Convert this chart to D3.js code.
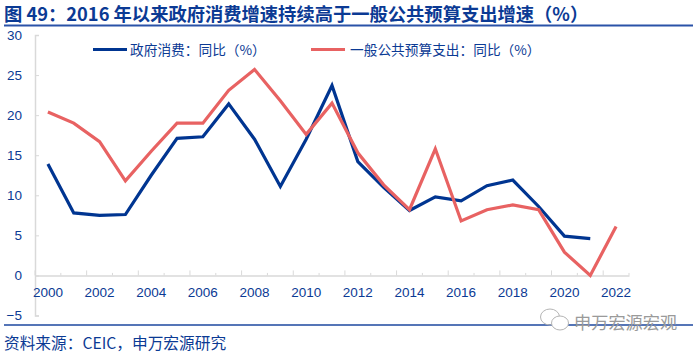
<!DOCTYPE html>
<html>
<head>
<meta charset="utf-8">
<script src="https://cdn.jsdelivr.net/npm/d3@7"></script>
<style>
    html, body { margin: 0; padding: 0; background: #fff; }
    svg { display: block; }
    text { font-family: "Liberation Sans", "Noto Sans CJK SC", sans-serif; }
</style>
</head>
<body>
<div id="container"></div>
<script>
const years = d3.range(2000, 2023).map(String);
const tickYears = ['2000', '2002', '2004', '2006', '2008', '2010', '2012', '2014', '2016', '2018', '2020', '2022'];
const yTicks = [-5, 0, 5, 10, 15, 20, 25, 30];
const govConsumption = [13.9, 7.8, 7.5, 7.6, 12.5, 17.1, 17.3, 21.4, 17, 11.1, 17, 23.7, 14.2, 11, 8.1, 9.8, 9.3, 11.2, 11.9, 8.6, 4.9, 4.6];
const publicBudget = [20.4, 19, 16.7, 11.8, 15.5, 19, 19, 23.1, 25.7, 21.8, 17.6, 21.5, 15.3, 11.3, 8.2, 15.8, 6.8, 8.2, 8.8, 8.2, 2.9, 0, 6.1];
const titleText = '图 49：2016 年以来政府消费增速持续高于一般公共预算支出增速（%）';
const sourceText = '资料来源：CEIC，申万宏源研究';
const watermarkText = '申万宏源宏观';

const navy = '#0b3a94';
const blue = '#003591';
const red = '#e86262';
const grey = '#d9d9d9';
const cjk = '"Noto Sans CJK SC", sans-serif';

const width = 700;
const height = 354;
const marginLeft = 35;
const plotRight = 629;
const plotTop = 35;
const plotBottom = 315.5;

const svg = d3.create('svg')
    .attr('width', width)
    .attr('height', height);

// ---------- SCALES ----------
const x = d3.scaleBand()
    .domain(years)
    .range([marginLeft, plotRight]);

const y = d3.scaleLinear()
    .domain([-5, 30])
    .range([plotBottom, plotTop]);

// ---------- HEADER / FOOTER ----------
svg.append('text')
    .attr('x', 4)
    .attr('y', 20.5)
    .attr('fill', navy)
    .style('font-family', cjk)
    .style('font-size', '18.3px')
    .style('font-weight', 700)
    .text(titleText);

svg.append('line')
    .attr('x1', 4).attr('x2', 693)
    .attr('y1', 25.5).attr('y2', 25.5)
    .attr('stroke', '#2a52a8')
    .attr('stroke-width', 2);

svg.append('line')
    .attr('x1', 4).attr('x2', 693)
    .attr('y1', 325).attr('y2', 325)
    .attr('stroke', '#1d479f')
    .attr('stroke-width', 1.5);

svg.append('text')
    .attr('x', 4)
    .attr('y', 349)
    .attr('fill', navy)
    .style('font-family', cjk)
    .style('font-size', '15.7px')
    .text(sourceText);

// ---------- AXES ----------
const yAxis = svg.append('g')
    .attr('transform', `translate(${marginLeft},0)`)
    .call(d3.axisLeft(y).tickValues(yTicks).tickSize(-4).tickPadding(13));

const xAxis = svg.append('g')
    .attr('transform', `translate(0,${y(0)})`)
    .call(d3.axisBottom(x)
        .tickValues([])
        .tickSizeOuter(0));

xAxis.selectAll('.minor')
    .data(d3.range(years.length + 1))
    .join('line')
    .attr('class', 'minor')
    .attr('x1', i => marginLeft + i * x.bandwidth())
    .attr('x2', i => marginLeft + i * x.bandwidth())
    .attr('y1', 0)
    .attr('y2', i => i % 2 ? -2.5 : -5)
    .attr('stroke', grey);

xAxis.selectAll('.year')
    .data(tickYears)
    .join('text')
    .attr('class', 'year')
    .attr('x', d => x(d) + x.bandwidth() / 2)
    .attr('y', 22)
    .attr('text-anchor', 'middle')
    .attr('fill', navy)
    .style('font-size', '13.5px')
    .text(d => d);

[yAxis, xAxis].forEach(axis => {
    axis.select('.domain').attr('stroke', grey).attr('stroke-width', 1.5);
    axis.selectAll('.tick line').attr('stroke', grey);
});
yAxis.selectAll('.tick text')
    .attr('fill', navy)
    .style('font-size', '13.5px');

// ---------- LINES ----------
const line = d3.line()
    .x((d, i) => x(years[i]) + x.bandwidth() / 2)
    .y(d => y(d));

const series = [
    { name: '政府消费：同比（%）', values: govConsumption, color: blue, legendX: 93, textX: 37 },
    { name: '一般公共预算支出：同比（%）', values: publicBudget, color: red, legendX: 311, textX: 39 }
];

svg.selectAll('.series')
    .data(series)
    .join('path')
    .attr('class', 'series')
    .attr('d', d => line(d.values))
    .attr('fill', 'none')
    .attr('stroke', d => d.color)
    .attr('stroke-width', 3.2);

// ---------- LEGEND ----------
const legend = svg.selectAll('.legend')
    .data(series)
    .join('g')
    .attr('class', 'legend')
    .attr('transform', d => `translate(${d.legendX},49.5)`);

legend.append('line')
    .attr('x1', 0).attr('x2', 34)
    .attr('stroke', d => d.color)
    .attr('stroke-width', 3.2);

legend.append('text')
    .attr('x', d => d.textX)
    .attr('y', 5)
    .attr('fill', navy)
    .style('font-family', cjk)
    .style('font-size', '13.7px')
    .text(d => d.name);

// ---------- WATERMARK ----------
const mark = svg.append('g')
    .attr('fill', 'none')
    .attr('stroke', '#b5b5b5')
    .attr('stroke-width', 1);
mark.append('ellipse').attr('cx', 550).attr('cy', 317).attr('rx', 9.5).attr('ry', 8);
mark.append('ellipse').attr('cx', 560).attr('cy', 323).attr('rx', 8.5).attr('ry', 7).attr('fill', '#fff');

svg.append('text')
    .attr('x', 574)
    .attr('y', 329)
    .attr('fill', '#9a9a9a')
    .style('font-family', cjk)
    .style('font-size', '17.2px')
    .text(watermarkText);

document.getElementById('container').append(svg.node());
</script>
</body>
</html>
